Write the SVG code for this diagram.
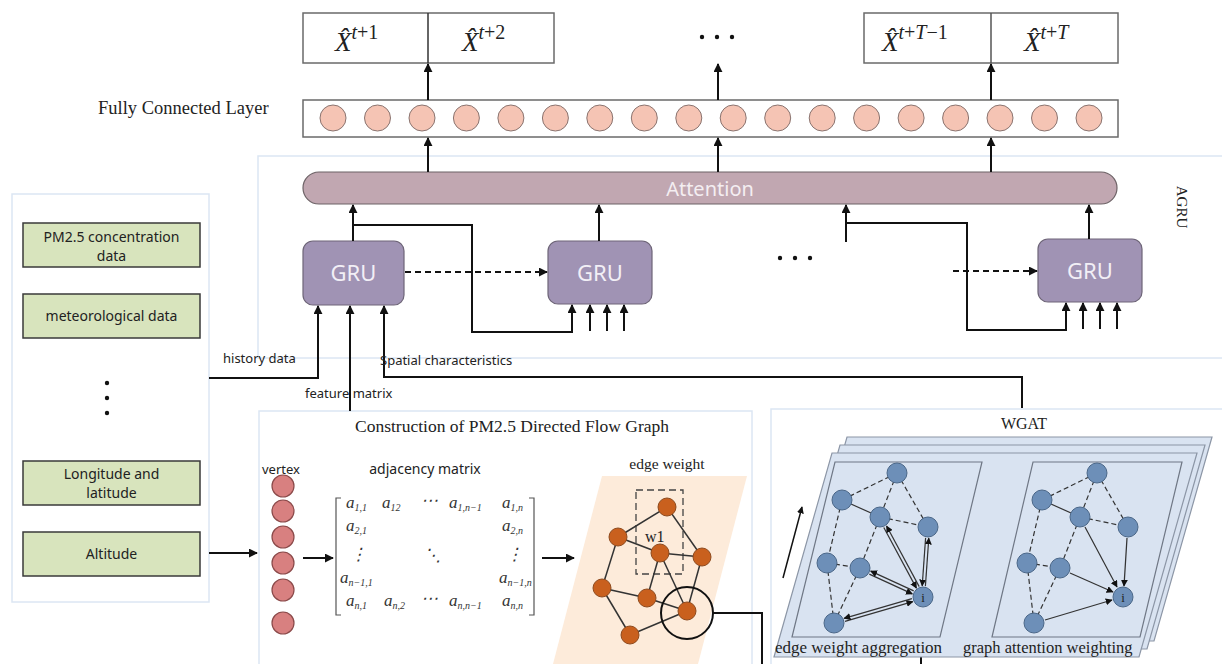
<svg xmlns="http://www.w3.org/2000/svg" width="1222" height="664" viewBox="0 0 1222 664">
<defs>
<style>
.serif{font-family:"Liberation Serif","Times New Roman",serif;fill:#222}
.sans{font-family:"Noto Sans","Open Sans","DejaVu Sans",sans-serif;fill:#222}
.panel{fill:none;stroke:#dce6f3;stroke-width:1.5}
.box{fill:#fff;stroke:#6a6a6a;stroke-width:1.5}
.fc{fill:#f5c4b4;stroke:#8a7470;stroke-width:1}
.gru{fill:#a093b4;stroke:#6e6578;stroke-width:1.2}
.grut{font-family:"Noto Sans","Open Sans",sans-serif;font-size:22px;fill:#f2eff6;text-anchor:middle}
.green{fill:#d8e4bd;stroke:#3a3a3a;stroke-width:1.5}
.ln{fill:none;stroke:#111;stroke-width:2}
.dash{fill:none;stroke:#111;stroke-width:2;stroke-dasharray:6,4}
.vx{fill:#d88080;stroke:#8b4a4a;stroke-width:1.2}
.on{fill:#c9601e;stroke:#8e4a1e;stroke-width:1}
.oe{stroke:#333;stroke-width:1.5;fill:none}
.bn{fill:#6d8fb8;stroke:#4b6788;stroke-width:1}
.bd{stroke:#333;stroke-width:1.2;stroke-dasharray:5,3;fill:none}
.bs{stroke:#333;stroke-width:1.2;fill:none}
.layer{fill:#d9e3f1;stroke:#8c96a6;stroke-width:1.2}
.inner{fill:none;stroke:#6f7785;stroke-width:1.2}
.m{font-family:"Liberation Serif","Times New Roman",serif;font-style:italic;font-size:17px;fill:#333}
.sub{font-size:10px}
</style>
<marker id="ah" viewBox="0 0 10 10" refX="9" refY="5" markerWidth="9" markerHeight="9" markerUnits="userSpaceOnUse" orient="auto"><path d="M0,0 L10,5 L0,10 z" fill="#111"/></marker>
<marker id="as" viewBox="0 0 10 10" refX="9" refY="5" markerWidth="7" markerHeight="7" markerUnits="userSpaceOnUse" orient="auto"><path d="M0,0 L10,5 L0,10 z" fill="#111"/></marker>
</defs>
<rect width="1222" height="664" fill="#fff"/>

<!-- panels -->
<g id="agru-panel"><rect class="panel" x="258" y="156" width="980" height="202"/>
<text class="serif" font-size="15" text-anchor="middle" transform="translate(1177,207) rotate(90)">AGRU</text></g>
<g id="input-panel"><rect class="panel" x="12" y="194" width="197" height="408"/></g>
<g id="construction-panel"><rect class="panel" x="259" y="411" width="493" height="260"/>
<text class="serif" font-size="17.5" x="512" y="432" text-anchor="middle">Construction of PM2.5 Directed Flow Graph</text></g>
<g id="wgat-panel"><rect class="panel" x="771" y="409" width="470" height="262"/>
<text class="serif" font-size="16" x="1024" y="429" text-anchor="middle">WGAT</text></g>

<!-- output boxes -->
<g id="outputs">
<rect class="box" x="303" y="13" width="251" height="50"/>
<line x1="428" y1="13" x2="428" y2="63" stroke="#333" stroke-width="1.5"/>
<rect class="box" x="864" y="13" width="254" height="50"/>
<line x1="991" y1="13" x2="991" y2="63" stroke="#555" stroke-width="1.5"/>
<text class="serif" x="335" y="51" font-size="27" font-style="italic">X̂<tspan dy="-12" font-size="20">t</tspan><tspan font-style="normal" font-size="20">+1</tspan></text>
<text class="serif" x="462" y="51" font-size="27" font-style="italic">X̂<tspan dy="-12" font-size="20">t</tspan><tspan font-style="normal" font-size="20">+2</tspan></text>
<text class="serif" x="882" y="51" font-size="27" font-style="italic">X̂<tspan dy="-12" font-size="20">t</tspan><tspan font-style="normal" font-size="20">+</tspan><tspan font-size="20">T</tspan><tspan font-style="normal" font-size="20">−1</tspan></text>
<text class="serif" x="1024" y="51" font-size="27" font-style="italic">X̂<tspan dy="-12" font-size="20">t</tspan><tspan font-style="normal" font-size="20">+</tspan><tspan font-size="20">T</tspan></text>
<circle cx="702" cy="37" r="2.2" fill="#111"/><circle cx="717" cy="37" r="2.2" fill="#111"/><circle cx="732" cy="37" r="2.2" fill="#111"/>
</g>

<!-- FC layer -->
<g id="fc-layer">
<text class="serif" x="98" y="114" font-size="18.5">Fully Connected Layer</text>
<rect class="box" x="303" y="100" width="815" height="37"/>
<circle class="fc" cx="333" cy="118" r="13"/><circle class="fc" cx="377.5" cy="118" r="13"/><circle class="fc" cx="422" cy="118" r="13"/><circle class="fc" cx="466.4" cy="118" r="13"/><circle class="fc" cx="510.9" cy="118" r="13"/><circle class="fc" cx="555.4" cy="118" r="13"/><circle class="fc" cx="599.8" cy="118" r="13"/><circle class="fc" cx="644.3" cy="118" r="13"/><circle class="fc" cx="688.8" cy="118" r="13"/><circle class="fc" cx="733.2" cy="118" r="13"/><circle class="fc" cx="777.7" cy="118" r="13"/><circle class="fc" cx="822.2" cy="118" r="13"/><circle class="fc" cx="866.6" cy="118" r="13"/><circle class="fc" cx="911.1" cy="118" r="13"/><circle class="fc" cx="955.6" cy="118" r="13"/><circle class="fc" cx="1000" cy="118" r="13"/><circle class="fc" cx="1044.5" cy="118" r="13"/><circle class="fc" cx="1089" cy="118" r="13"/>
</g>

<!-- attention -->
<g id="attention">
<rect x="303" y="172" width="814" height="32" rx="16" fill="#c1a7b1" stroke="#6d6266" stroke-width="1.2"/>
<text x="710" y="196" font-family="Noto Sans,Open Sans,sans-serif" font-size="20" fill="#f4eef1" text-anchor="middle">Attention</text>
</g>

<!-- GRUs -->
<g id="gru1"><rect class="gru" x="303" y="241" width="101" height="64" rx="10"/><text class="grut" x="353.5" y="281">GRU</text></g>
<g id="gru2"><rect class="gru" x="548" y="241" width="104" height="63" rx="10"/><text class="grut" x="600" y="281">GRU</text></g>
<g id="gru3"><rect class="gru" x="1038" y="239" width="104" height="63" rx="10"/><text class="grut" x="1090" y="279">GRU</text></g>
<g id="gru-ellipsis"><circle cx="780" cy="258" r="2.2" fill="#111"/><circle cx="795" cy="258" r="2.2" fill="#111"/><circle cx="810" cy="258" r="2.2" fill="#111"/></g>

<!-- inputs -->
<g id="inputs">
<rect class="green" x="23" y="223" width="177" height="44"/>
<text class="sans" font-size="14" x="111.5" y="242" text-anchor="middle">PM2.5 concentration</text>
<text class="sans" font-size="14" x="111.5" y="261" text-anchor="middle">data</text>
<rect class="green" x="23" y="294" width="177" height="44"/>
<text class="sans" font-size="14" x="111.5" y="321" text-anchor="middle">meteorological data</text>
<circle cx="107" cy="383" r="2.2" fill="#111"/><circle cx="107" cy="398" r="2.2" fill="#111"/><circle cx="107" cy="413" r="2.2" fill="#111"/>
<rect class="green" x="23" y="461" width="177" height="44"/>
<text class="sans" font-size="14" x="111.5" y="479" text-anchor="middle">Longitude and</text>
<text class="sans" font-size="14" x="111.5" y="498" text-anchor="middle">latitude</text>
<rect class="green" x="23" y="532" width="177" height="44"/>
<text class="sans" font-size="14" x="111.5" y="559" text-anchor="middle">Altitude</text>
</g>

<!-- connectors -->
<g id="connectors">
<line class="ln" x1="428" y1="100" x2="428" y2="64" marker-end="url(#ah)"/>
<line class="ln" x1="718" y1="100" x2="718" y2="64" marker-end="url(#ah)"/>
<line class="ln" x1="991" y1="100" x2="991" y2="64" marker-end="url(#ah)"/>
<line class="ln" x1="428" y1="172" x2="428" y2="138" marker-end="url(#ah)"/>
<line class="ln" x1="718" y1="172" x2="718" y2="138" marker-end="url(#ah)"/>
<line class="ln" x1="991" y1="172" x2="991" y2="138" marker-end="url(#ah)"/>
<line class="ln" x1="353" y1="241" x2="353" y2="205" marker-end="url(#ah)"/>
<line class="ln" x1="599" y1="241" x2="599" y2="205" marker-end="url(#ah)"/>
<line class="ln" x1="846" y1="242" x2="846" y2="205" marker-end="url(#ah)"/>
<line class="ln" x1="1089" y1="239" x2="1089" y2="205" marker-end="url(#ah)"/>
<path class="ln" d="M353,225 H472 V332 H572 V305" marker-end="url(#ah)"/>
<path class="ln" d="M846,223 H967 V330 H1066 V303" marker-end="url(#ah)"/>
<line class="ln" x1="590" y1="331" x2="590" y2="305" marker-end="url(#ah)"/>
<line class="ln" x1="607" y1="331" x2="607" y2="305" marker-end="url(#ah)"/>
<line class="ln" x1="624" y1="331" x2="624" y2="305" marker-end="url(#ah)"/>
<line class="ln" x1="1083" y1="329" x2="1083" y2="303" marker-end="url(#ah)"/>
<line class="ln" x1="1100" y1="329" x2="1100" y2="303" marker-end="url(#ah)"/>
<line class="ln" x1="1117" y1="329" x2="1117" y2="303" marker-end="url(#ah)"/>
<line class="dash" x1="405" y1="272" x2="547" y2="272" marker-end="url(#ah)"/>
<line class="dash" x1="953" y1="271" x2="1037" y2="271" marker-end="url(#ah)"/>
<path class="ln" d="M209,378 H318 V306" marker-end="url(#ah)"/>
<line class="ln" x1="350" y1="411" x2="350" y2="306" marker-end="url(#ah)"/>
<path class="ln" d="M1022,408 V377 H384 V306" marker-end="url(#ah)"/>
<line class="ln" x1="209" y1="553" x2="257" y2="553" marker-end="url(#ah)"/>
<line class="ln" x1="303" y1="558" x2="333" y2="558" marker-end="url(#ah)"/>
<line class="ln" x1="542" y1="558" x2="574" y2="558" marker-end="url(#ah)"/>
<path class="ln" d="M713,613 H762 V664"/>
<line class="ln" x1="921" y1="664" x2="921" y2="609" marker-end="url(#ah)"/>
<line x1="974" y1="547" x2="1007" y2="547" stroke="#111" stroke-width="2" marker-end="url(#as)"/>
<line x1="783" y1="578" x2="802" y2="507" stroke="#111" stroke-width="1.5" marker-end="url(#as)"/>
</g>
<g id="connector-labels">
<text class="sans" font-size="13" x="223" y="363">history data</text>
<text class="sans" font-size="13" x="380" y="365">Spatial characteristics</text>
<text class="sans" font-size="13" x="305" y="398">feature matrix</text>
</g>

<!-- vertex column -->
<g id="vertex">
<text class="sans" font-size="13" x="262" y="474">vertex</text>
<circle class="vx" cx="283" cy="486" r="11"/><circle class="vx" cx="283" cy="511" r="11"/><circle class="vx" cx="283" cy="537" r="11"/><circle class="vx" cx="283" cy="563" r="11"/><circle class="vx" cx="283" cy="590" r="11"/><circle class="vx" cx="283" cy="623" r="11"/>
</g>

<!-- adjacency matrix -->
<g id="adjacency-matrix">
<text class="sans" font-size="14" x="425" y="474" text-anchor="middle">adjacency matrix</text>
<path d="M341,498 H336 V615 H341 M529,498 H534 V615 H529" fill="none" stroke="#555" stroke-width="1.2"/>
<text class="m" x="346" y="508">a<tspan class="sub" dy="3">1,1</tspan></text>
<text class="m" x="382" y="508">a<tspan class="sub" dy="3">12</tspan></text>
<text class="m" x="421" y="506" font-style="normal" font-size="13">⋯</text>
<text class="m" x="449" y="508">a<tspan class="sub" dy="3">1,n−1</tspan></text>
<text class="m" x="502" y="508">a<tspan class="sub" dy="3">1,n</tspan></text>
<text class="m" x="346" y="531">a<tspan class="sub" dy="3">2,1</tspan></text>
<text class="m" x="502" y="531">a<tspan class="sub" dy="3">2,n</tspan></text>
<text class="m" x="350" y="560" font-style="normal" font-size="14">⋮</text>
<text class="m" x="424" y="561" font-style="normal" font-size="14">⋱</text>
<text class="m" x="506" y="560" font-style="normal" font-size="14">⋮</text>
<text class="m" x="340" y="583">a<tspan class="sub" dy="3">n−1,1</tspan></text>
<text class="m" x="499" y="583">a<tspan class="sub" dy="3">n−1,n</tspan></text>
<text class="m" x="346" y="606">a<tspan class="sub" dy="3">n,1</tspan></text>
<text class="m" x="384" y="606">a<tspan class="sub" dy="3">n,2</tspan></text>
<text class="m" x="421" y="604" font-style="normal" font-size="13">⋯</text>
<text class="m" x="449" y="606">a<tspan class="sub" dy="3">n,n−1</tspan></text>
<text class="m" x="502" y="606">a<tspan class="sub" dy="3">n,n</tspan></text>
</g>

<!-- edge weight graph -->
<g id="edge-weight">
<text class="serif" font-size="15.5" x="667" y="469" text-anchor="middle">edge weight</text>
<polygon points="602,476 747,476 698,664 553,664" fill="#fdebda"/>
<rect x="636" y="490" width="47" height="84" fill="none" stroke="#444" stroke-width="1.3" stroke-dasharray="7,4"/>
<text class="serif" font-size="16" x="645" y="542">w1</text>
<line class="oe" x1="618" y1="537" x2="667" y2="507"/>
<line class="oe" x1="667" y1="507" x2="702" y2="557"/>
<line class="oe" x1="618" y1="537" x2="660" y2="553"/>
<line class="oe" x1="660" y1="553" x2="702" y2="557"/>
<line class="oe" x1="618" y1="537" x2="602" y2="588"/>
<line class="oe" x1="602" y1="588" x2="647" y2="598"/>
<line class="oe" x1="602" y1="588" x2="630" y2="635"/>
<line class="oe" x1="660" y1="553" x2="647" y2="598"/>
<line class="oe" x1="660" y1="553" x2="687" y2="611"/>
<line class="oe" x1="702" y1="557" x2="687" y2="611"/>
<line class="oe" x1="630" y1="635" x2="687" y2="611"/>
<line class="oe" x1="647" y1="598" x2="687" y2="611"/>
<circle class="on" cx="667" cy="507" r="9"/><circle class="on" cx="618" cy="537" r="9"/><circle class="on" cx="660" cy="553" r="9"/><circle class="on" cx="702" cy="557" r="9"/><circle class="on" cx="602" cy="588" r="9"/><circle class="on" cx="647" cy="598" r="9"/><circle class="on" cx="687" cy="611" r="9"/><circle class="on" cx="630" cy="635" r="9"/>
<circle cx="687" cy="613" r="26" fill="none" stroke="#111" stroke-width="2"/>
</g>

<!-- WGAT layers -->
<g id="wgat">
<polygon class="layer" points="847,437 1212,437 1154,641 789,641"/>
<polygon class="layer" points="840,445 1205,445 1147,649 782,649"/>
<polygon class="layer" points="832,453 1197,453 1139,657 774,657"/>
<polygon class="inner" points="835,462 982,462 940,637 792,637"/>
<polygon class="inner" points="1033,462 1182,462 1140,637 992,637"/>
<text class="serif" font-size="17" x="775" y="653">edge weight aggregation</text>
<text class="serif" font-size="16.5" x="963" y="653">graph attention weighting</text>
</g>
<g id="wgat-left-graph">
<line class="bd" x1="897" y1="473" x2="842" y2="500"/>
<line class="bd" x1="897" y1="473" x2="880" y2="517"/>
<line class="bd" x1="897" y1="473" x2="928" y2="527"/>
<line class="bs" x1="842" y1="500" x2="880" y2="517"/>
<line class="bd" x1="880" y1="517" x2="928" y2="527"/>
<line class="bd" x1="842" y1="500" x2="827" y2="563"/>
<line class="bd" x1="880" y1="517" x2="860" y2="568"/>
<line class="bd" x1="827" y1="563" x2="860" y2="568"/>
<line class="bd" x1="827" y1="563" x2="834" y2="623"/>
<line class="bd" x1="860" y1="568" x2="834" y2="623"/>
<line class="bs" x1="883.8" y1="527.5" x2="916.4" y2="588.1" marker-end="url(#as)"/>
<line class="bs" x1="919.2" y1="586.6" x2="886.6" y2="526" marker-end="url(#as)"/>
<line class="bs" x1="925.6" y1="537.9" x2="922.2" y2="585.9" marker-end="url(#as)"/>
<line class="bs" x1="925.4" y1="586.1" x2="928.8" y2="538.1" marker-end="url(#as)"/>
<line class="bs" x1="869.3" y1="574.1" x2="912.3" y2="593.9" marker-end="url(#as)"/>
<line class="bs" x1="913.7" y1="590.9" x2="870.7" y2="571.1" marker-end="url(#as)"/>
<line class="bs" x1="845" y1="621.4" x2="912.8" y2="601.6" marker-end="url(#as)"/>
<line class="bs" x1="911.9" y1="598.6" x2="844.1" y2="618.4" marker-end="url(#as)"/>
<circle class="bn" cx="897" cy="473" r="10"/><circle class="bn" cx="842" cy="500" r="10"/><circle class="bn" cx="880" cy="517" r="10"/><circle class="bn" cx="928" cy="527" r="10"/><circle class="bn" cx="827" cy="563" r="10"/><circle class="bn" cx="860" cy="568" r="10"/><circle class="bn" cx="834" cy="623" r="10"/><circle class="bn" cx="923" cy="597" r="10"/>
<text class="serif" font-size="13" x="923" y="602" text-anchor="middle">i</text>
</g>
<g id="wgat-right-graph">
<line class="bd" x1="1097" y1="473" x2="1042" y2="500"/>
<line class="bd" x1="1097" y1="473" x2="1080" y2="517"/>
<line class="bd" x1="1097" y1="473" x2="1128" y2="527"/>
<line class="bs" x1="1042" y1="500" x2="1080" y2="517"/>
<line class="bd" x1="1080" y1="517" x2="1128" y2="527"/>
<line class="bd" x1="1042" y1="500" x2="1027" y2="563"/>
<line class="bd" x1="1080" y1="517" x2="1060" y2="568"/>
<line class="bd" x1="1027" y1="563" x2="1060" y2="568"/>
<line class="bd" x1="1027" y1="563" x2="1034" y2="623"/>
<line class="bd" x1="1060" y1="568" x2="1034" y2="623"/>
<line class="bs" x1="1085" y1="527" x2="1117" y2="587" marker-end="url(#as)"/>
<line class="bs" x1="1127" y1="538" x2="1124" y2="586" marker-end="url(#as)"/>
<line class="bs" x1="1070" y1="573" x2="1113" y2="592" marker-end="url(#as)"/>
<line class="bs" x1="1045" y1="620" x2="1112" y2="600" marker-end="url(#as)"/>
<circle class="bn" cx="1097" cy="473" r="10"/><circle class="bn" cx="1042" cy="500" r="10"/><circle class="bn" cx="1080" cy="517" r="10"/><circle class="bn" cx="1128" cy="527" r="10"/><circle class="bn" cx="1027" cy="563" r="10"/><circle class="bn" cx="1060" cy="568" r="10"/><circle class="bn" cx="1034" cy="623" r="10"/><circle class="bn" cx="1123" cy="597" r="10"/>
<text class="serif" font-size="13" x="1123" y="602" text-anchor="middle">i</text>
</g>
</svg>
